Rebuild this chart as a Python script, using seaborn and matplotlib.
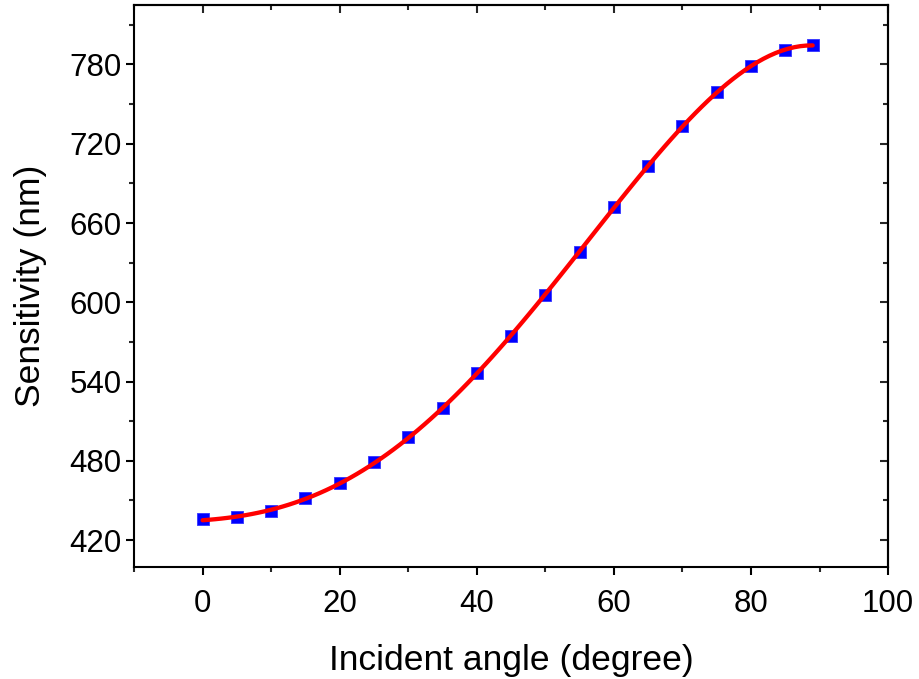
import matplotlib
matplotlib.use("Agg")
import matplotlib.pyplot as plt
from matplotlib.ticker import MultipleLocator
import seaborn as sns
import pandas as pd
import numpy as np

angles = [0, 5, 10, 15, 20, 25, 30, 35, 40, 45, 50, 55, 60, 65, 70, 75, 80, 85, 89]
sensitivity = [435.7, 437.2, 441.9, 451.6, 462.9, 478.8, 497.7, 520.1, 546.2, 574.6,
               605.4, 638.0, 671.8, 703.3, 733.8, 759.0, 778.5, 790.6, 794.8]
x_ticks = [0, 20, 40, 60, 80, 100]
y_ticks = [420, 480, 540, 600, 660, 720, 780]

df = pd.DataFrame({"angle": angles, "sens": sensitivity})

sns.set_theme(style="ticks")
plt.rcParams["font.family"] = ["Liberation Sans", "DejaVu Sans"]
plt.rcParams["text.color"] = "black"
plt.rcParams["axes.labelcolor"] = "black"

fig = plt.figure(figsize=(9.2, 6.79), dpi=100)
ax = fig.add_axes([0.1457, 0.1649, 0.8196, 0.8277])

sns.scatterplot(data=df, x="angle", y="sens", marker="s", s=70, color="#0000ff",
                edgecolor="#3333ff", linewidth=0.6, ax=ax, zorder=2)
sns.regplot(data=df, x="angle", y="sens", order=4, ci=None, scatter=False,
            truncate=True, color="#ff0000", line_kws={"linewidth": 3.1, "zorder": 3}, ax=ax)

ax.set_xlim(-10, 100)
ax.set_ylim(399.6, 825)
ax.set_xticks(x_ticks)
ax.set_yticks(y_ticks)
ax.xaxis.set_minor_locator(MultipleLocator(10))
ax.yaxis.set_minor_locator(MultipleLocator(30))

for s in ax.spines.values():
    s.set_visible(True)
    s.set_linewidth(1.5)
    s.set_color("black")

ax.tick_params(axis="both", which="major", direction="out", length=6, width=1.5,
               labelsize=22.5, colors="black", labelcolor="black")
ax.tick_params(axis="x", which="major", pad=9.5)
ax.tick_params(axis="y", which="major", pad=3)
ax.tick_params(axis="both", which="minor", direction="out", length=3.5, width=1.5)
# mirrored ticks pointing inward on top/right
ax_top = ax.secondary_xaxis("top")
ax_top.set_xticks(x_ticks)
ax_top.xaxis.set_minor_locator(MultipleLocator(10))
ax_top.tick_params(which="major", direction="in", length=6, width=1.5, labeltop=False)
ax_top.tick_params(which="minor", direction="in", length=3.5, width=1.5)
ax_top.spines["top"].set_linewidth(1.5)
ax_right = ax.secondary_yaxis("right")
ax_right.set_yticks(y_ticks)
ax_right.yaxis.set_minor_locator(MultipleLocator(30))
ax_right.tick_params(which="major", direction="in", length=6, width=1.5, labelright=False)
ax_right.tick_params(which="minor", direction="in", length=3.5, width=1.5)
ax_right.spines["right"].set_linewidth(1.5)

ax.set_xlabel("Incident angle (degree)", fontsize=25.5, labelpad=18.5, color="black")
ax.set_ylabel("Sensitivity (nm)", fontsize=25.5, labelpad=16, color="black")

fig.savefig("out.png", dpi=100)
